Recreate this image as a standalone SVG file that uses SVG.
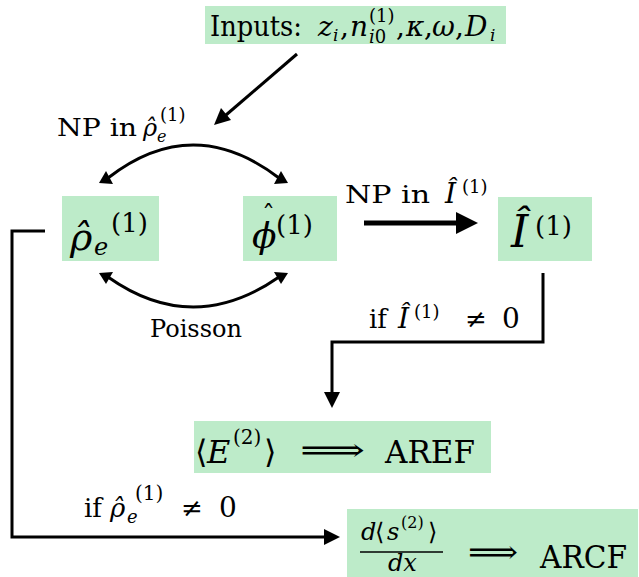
<svg xmlns="http://www.w3.org/2000/svg" width="639" height="577" viewBox="0 0 639 577">
<style>
text{font-family:'DejaVu Serif','Liberation Serif',serif;fill:#000}
.m{font-style:italic}
.box{fill:#bdebc9}
.ln{fill:none;stroke:#000;stroke-width:3}
.ah{fill:#000}
</style>
<rect width="639" height="577" fill="#fff"/>
<g id="connectors">
  <line class="ln" x1="297" y1="54" x2="226" y2="115"/>
  <polygon class="ah" points="214,125 221,108 231,120"/>
  <path class="ln" d="M108,178 Q193,112 279,178"/>
  <polygon class="ah" points="99,183 106,171 113,184"/>
  <polygon class="ah" points="288,183 274,184 281,171"/>
  <path class="ln" d="M108,277 Q193,337 279,277"/>
  <polygon class="ah" points="99,273 113,272 106,284"/>
  <polygon class="ah" points="288,273 281,284 274,272"/>
  <line x1="364" y1="223" x2="458" y2="223" stroke="#000" stroke-width="5"/>
  <polygon class="ah" points="456,212 478,223 456,234"/>
  <path class="ln" d="M543,273 V342 H332 V392"/>
  <polygon class="ah" points="324,392 340,392 332,408"/>
  <path class="ln" d="M45,231 H12 V537 H324"/>
  <polygon class="ah" points="324,529 324,545 340,537"/>
</g>
<g id="inputs">
  <rect class="box" x="205" y="6" width="301" height="38"/>
  <text x="210" y="36" font-size="28"><tspan textLength="92" lengthAdjust="spacingAndGlyphs">Inputs:</tspan><tspan class="m" x="318">z</tspan><tspan class="m" x="333" y="41" font-size="17">i</tspan><tspan x="340" y="36">,</tspan><tspan class="m" x="350">n</tspan><tspan x="369" y="22" font-size="18">(1)</tspan><tspan class="m" x="369" y="43" font-size="18">i</tspan><tspan y="43" font-size="18">0</tspan><tspan x="396" y="36">,</tspan><tspan class="m" x="406">κ</tspan><tspan x="424">,</tspan><tspan class="m" x="432">ω</tspan><tspan x="455">,</tspan><tspan class="m" x="465">D</tspan><tspan class="m" x="490" y="41" font-size="17">i</tspan></text>
</g>
<g id="rho">
  <rect class="box" x="62" y="196" width="97" height="65"/>
  <text x="70" y="250" font-size="38"><tspan class="m">ρ̂</tspan><tspan class="m" x="94" y="255" font-size="24">e</tspan><tspan x="111" y="232" font-size="26">(1)</tspan></text>
</g>
<g id="phi">
  <rect class="box" x="243" y="196" width="94" height="65"/>
  <text x="252" y="248" font-size="36"><tspan class="m">ϕ</tspan><tspan x="262" y="224" font-size="26">ˆ</tspan><tspan x="276" y="234" font-size="26">(1)</tspan></text>
</g>
<g id="current">
  <rect class="box" x="498" y="197" width="94" height="64"/>
  <text x="511" y="247" font-size="44"><tspan class="m">Î</tspan><tspan x="535" y="235" font-size="26">(1)</tspan></text>
</g>
<g id="aref">
  <rect class="box" x="194" y="421" width="297" height="52"/>
  <text x="195" y="463" font-size="32"><tspan>⟨</tspan><tspan class="m" x="207">E</tspan><tspan x="233" y="444" font-size="20">(2)</tspan><tspan x="264" y="463">⟩</tspan><tspan x="300" y="461" textLength="65" lengthAdjust="spacingAndGlyphs">⟹</tspan><tspan x="385" y="463" textLength="90" lengthAdjust="spacingAndGlyphs">AREF</tspan></text>
</g>
<g id="arcf">
  <rect class="box" x="347" y="509" width="291" height="68"/>
  <text x="361" y="540" font-size="24"><tspan class="m">d</tspan><tspan x="375">⟨</tspan><tspan class="m" x="387">s</tspan><tspan x="401" y="528" font-size="16">(2)</tspan><tspan x="428" y="540">⟩</tspan></text>
  <line x1="360" y1="552" x2="443" y2="552" stroke="#000" stroke-width="1.5"/>
  <text class="m" x="388" y="571" font-size="24">dx</text>
  <text x="468" y="563" font-size="32"><tspan textLength="50" lengthAdjust="spacingAndGlyphs">⟹</tspan><tspan x="540" y="568" textLength="87" lengthAdjust="spacingAndGlyphs">ARCF</tspan></text>
</g>
<g id="labels">
  <text x="57" y="136" font-size="24"><tspan textLength="80" lengthAdjust="spacingAndGlyphs">NP in</tspan><tspan class="m" x="143">ρ̂</tspan><tspan class="m" x="157" y="142" font-size="16">e</tspan><tspan x="160" y="121" font-size="18">(1)</tspan></text>
  <text x="150" y="337" font-size="24" textLength="92" lengthAdjust="spacingAndGlyphs">Poisson</text>
  <text x="345" y="203" font-size="24"><tspan textLength="85" lengthAdjust="spacingAndGlyphs">NP in</tspan><tspan class="m" x="445" font-size="28">Î</tspan><tspan x="462" y="193" font-size="18">(1)</tspan></text>
  <text x="369" y="328" font-size="26"><tspan>if</tspan><tspan class="m" x="398" font-size="28">Î</tspan><tspan x="414" y="318" font-size="18">(1)</tspan><tspan x="465" y="328">≠</tspan><tspan x="502" font-size="28">0</tspan></text>
  <text x="84" y="517" font-size="26"><tspan>if</tspan><tspan class="m" x="110">ρ̂</tspan><tspan class="m" x="127" y="523" font-size="18">e</tspan><tspan x="135" y="500" font-size="20">(1)</tspan><tspan x="181" y="517">≠</tspan><tspan x="219" font-size="28">0</tspan></text>
</g>
</svg>
